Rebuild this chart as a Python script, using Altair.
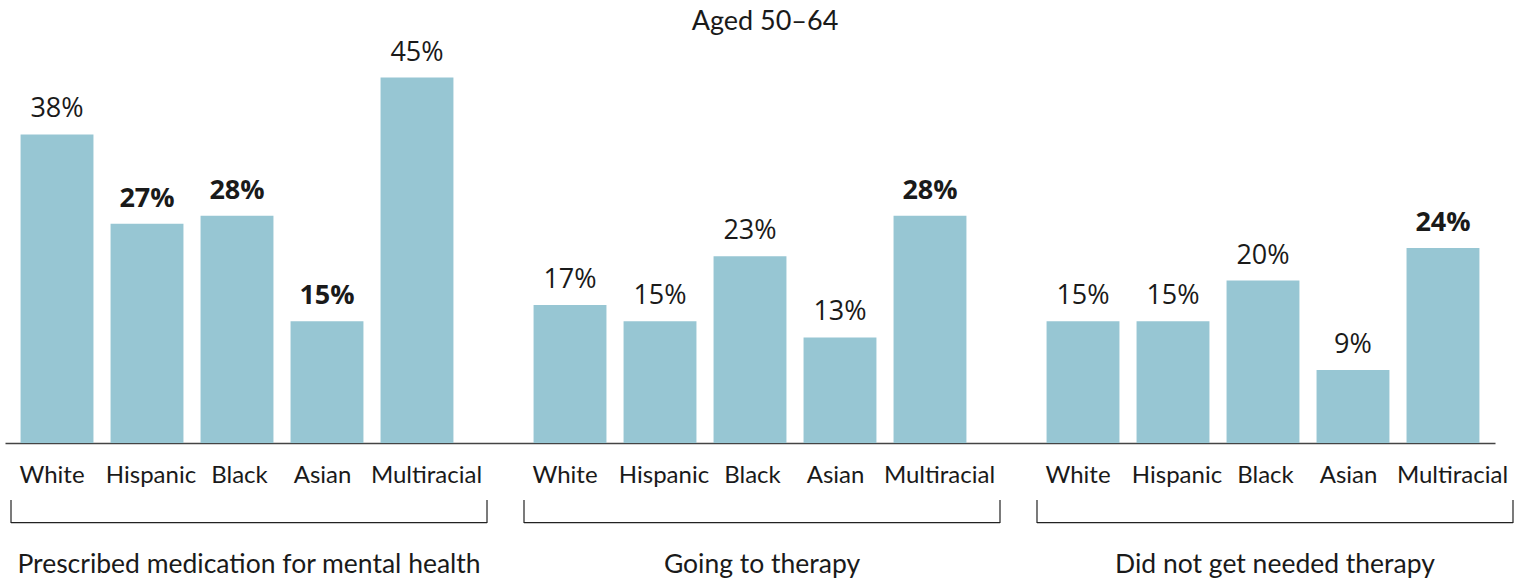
import altair as alt
import pandas as pd

title_text = "Aged 50–64"
groups = ["Prescribed medication for mental health", "Going to therapy", "Did not get needed therapy"]
races = ["White", "Hispanic", "Black", "Asian", "Multiracial"]

medication = [38, 27, 28, 15, 45]
medication_sig = [False, True, True, True, False]
therapy = [17, 15, 23, 13, 28]
therapy_sig = [False, False, False, False, True]
unmet = [15, 15, 20, 9, 24]
unmet_sig = [False, False, False, False, True]

# small horizontal nudges of the category labels (style only)
label_nudge = {"White": -5, "Hispanic": 4, "Black": 2.5, "Asian": -4.5, "Multiracial": 9.5}

rows = []
for g, vals, sigs in zip(groups, [medication, therapy, unmet], [medication_sig, therapy_sig, unmet_sig]):
    for r, v, s in zip(races, vals, sigs):
        rows.append({"group": g, "race": r, "value": v, "bold": s, "label": f"{v}%"})
df = pd.DataFrame(rows)
gdf = pd.DataFrame({"group": groups})
tdf = pd.DataFrame({"t": [title_text]})

BAR = "#97C6D3"
INK = "#1a1a1a"

x_enc = alt.X("group:N", sort=groups,
              scale=alt.Scale(paddingInner=0.0955, paddingOuter=0),
              axis=alt.Axis(labels=False, ticks=False, title=None, grid=False,
                            domainColor="#444444", domainWidth=1.5))
xo_enc = alt.XOffset("race:N", sort=races,
                     scale=alt.Scale(paddingInner=0.19, paddingOuter=0.173))
y_enc = alt.Y("value:Q", scale=alt.Scale(domain=[0, 50]), axis=None)

base = alt.Chart(df)

bars = base.mark_bar(color=BAR).encode(x=x_enc, xOffset=xo_enc, y=y_enc)

vals_reg = base.transform_filter("!datum.bold").mark_text(
    font="Open Sans", fontSize=27, color=INK, baseline="alphabetic", dy=-17
).encode(x=x_enc, xOffset=xo_enc, y=y_enc, text="label:N")

vals_bold = base.transform_filter("datum.bold").mark_text(
    font="Open Sans", fontSize=27, fontWeight="bold", color=INK, baseline="alphabetic", dy=-17
).encode(x=x_enc, xOffset=xo_enc, y=y_enc, text="label:N")

race_layers = []
for r in races:
    race_layers.append(
        base.transform_filter(alt.datum.race == r).mark_text(
            font="Lato", fontSize=24, color=INK, baseline="alphabetic", dx=label_nudge[r]
        ).encode(x=x_enc, xOffset=xo_enc, y=alt.value(446), text="race:N")
    )

gbase = alt.Chart(gdf)
bracket_bottom = gbase.mark_bar(width=476, xOffset=12, color="#222222").encode(
    x=x_enc, y=alt.value(485), y2=alt.value(486.2))
bracket_left = gbase.mark_rule(xOffset=-226, color="#222222", strokeWidth=1.2).encode(
    x=x_enc, y=alt.value(463), y2=alt.value(486))
bracket_right = gbase.mark_rule(xOffset=250, color="#222222", strokeWidth=1.2).encode(
    x=x_enc, y=alt.value(463), y2=alt.value(486))

group_lbl = gbase.mark_text(
    font="Lato", fontSize=26.5, color=INK, baseline="alphabetic", dx=12
).encode(x=x_enc, y=alt.value(536), text="group:N")

title = alt.Chart(tdf).mark_text(
    font="Lato", fontSize=27, color=INK, baseline="alphabetic"
).encode(x=alt.value(760), y=alt.value(-7), text="t:N")

chart = alt.layer(
    bars, vals_reg, vals_bold, *race_layers,
    bracket_bottom, bracket_left, bracket_right, group_lbl, title
).properties(
    width=1490, height=406,
    autosize=alt.AutoSizeParams(type="none"),
    padding={"left": 5, "top": 37, "right": 32, "bottom": 138},
).configure(background="white").configure_view(stroke=None, strokeWidth=0)

chart.save("out.html", embed_options={"renderer": "svg", "actions": False})
